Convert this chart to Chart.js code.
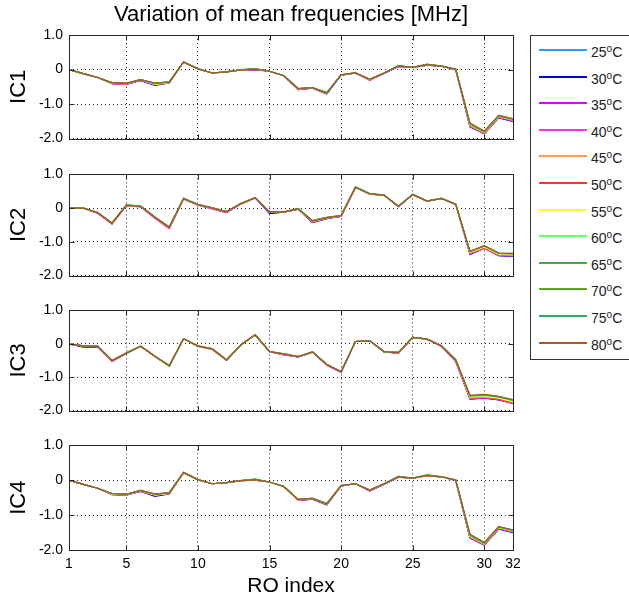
<!DOCTYPE html>
<html>
<head>
<meta charset="utf-8">
<script src="https://cdn.jsdelivr.net/npm/chart.js@4.4.1/dist/chart.umd.min.js"></script>
<style>
html,body{margin:0;padding:0;background:#fff;width:629px;height:599px;overflow:hidden;position:relative;}
canvas{position:absolute;left:0;}
#legend{position:absolute;left:530px;top:35px;width:130px;height:325px;box-sizing:border-box;border:1px solid #333;background:#fff;
  font-family:"Liberation Sans",Arial,Helvetica,sans-serif;font-size:14px;color:#222;}
.row{position:absolute;left:0;width:120px;height:2px;}
.ln{position:absolute;left:8px;width:48px;height:2px;top:0;}
.tx{position:absolute;left:60px;top:-4px;line-height:14px;white-space:nowrap;}
.tx sup{font-size:10px;position:relative;top:-1px;vertical-align:top;line-height:10px;}
</style>
</head>
<body>
<canvas id="p1" width="540" height="153" style="top:0px"></canvas>
<canvas id="p2" width="540" height="130" style="top:160px"></canvas>
<canvas id="p3" width="540" height="129" style="top:296px"></canvas>
<canvas id="p4" width="540" height="168" style="top:431px"></canvas>
<div id="legend"></div>
<script>
const roIndex = [1,2,3,4,5,6,7,8,9,10,11,12,13,14,15,16,17,18,19,20,21,22,23,24,25,26,27,28,29,30,31,32];
const xTickValues = [1,5,10,15,20,25,30,32];
const yTickValues = [-2,-1,0,1];
const temps = [25,30,35,40,45,50,55,60,65,70,75,80];
const colors = ['#3399ff','#0000dd','#dd00ff','#ff33dd','#ff9955','#ff3333','#ffff33','#66ff66','#44aa44','#55aa22','#33aa66','#b05528'];
const panelLabels = ['IC1','IC2','IC3','IC4'];
const chartTitle = 'Variation of mean frequencies [MHz]';
const xTitle = 'RO index';

// IC1 (IC4 shows the same curves)
const ic1t25 = [0,-0.12,-0.23,-0.40,-0.42,-0.31,-0.44,-0.38,0.22,0.02,-0.10,-0.07,-0.01,0.00,-0.05,-0.18,-0.57,-0.53,-0.70,-0.16,-0.10,-0.30,-0.11,0.09,0.06,0.13,0.10,0.00,-1.66,-1.85,-1.39,-1.49];
const ic1t30 = [0,-0.12,-0.23,-0.41,-0.42,-0.32,-0.46,-0.39,0.22,0.02,-0.10,-0.07,-0.01,0.00,-0.05,-0.18,-0.58,-0.54,-0.71,-0.16,-0.10,-0.30,-0.11,0.09,0.06,0.13,0.10,-0.01,-1.66,-1.86,-1.40,-1.50];
const ic1t35 = [0,-0.12,-0.23,-0.41,-0.43,-0.31,-0.43,-0.38,0.22,0.02,-0.10,-0.07,-0.01,0.00,-0.05,-0.18,-0.58,-0.54,-0.69,-0.16,-0.10,-0.31,-0.11,0.09,0.06,0.13,0.10,0.00,-1.65,-1.86,-1.39,-1.49];
const ic1t40 = [0,-0.12,-0.23,-0.40,-0.43,-0.31,-0.43,-0.38,0.22,0.02,-0.10,-0.07,-0.01,0.00,-0.05,-0.18,-0.58,-0.53,-0.69,-0.16,-0.10,-0.31,-0.11,0.09,0.06,0.13,0.10,0.00,-1.64,-1.85,-1.38,-1.48];
const ic1t45 = [0,-0.12,-0.23,-0.39,-0.41,-0.30,-0.42,-0.37,0.22,0.02,-0.10,-0.07,-0.01,0.01,-0.05,-0.18,-0.56,-0.53,-0.69,-0.15,-0.10,-0.29,-0.10,0.10,0.06,0.14,0.10,0.01,-1.63,-1.84,-1.37,-1.47];
const ic1t50 = [0,-0.12,-0.23,-0.40,-0.41,-0.30,-0.42,-0.37,0.22,0.02,-0.10,-0.07,-0.01,0.01,-0.05,-0.18,-0.56,-0.53,-0.68,-0.15,-0.10,-0.29,-0.10,0.10,0.06,0.14,0.10,0.01,-1.62,-1.85,-1.37,-1.47];
const ic1t55 = [0,-0.12,-0.23,-0.40,-0.41,-0.30,-0.43,-0.38,0.22,0.02,-0.10,-0.07,-0.01,0.01,-0.05,-0.18,-0.56,-0.52,-0.69,-0.15,-0.10,-0.29,-0.10,0.10,0.06,0.14,0.10,0.01,-1.61,-1.83,-1.36,-1.46];
const ic1t60 = [0,-0.12,-0.23,-0.39,-0.40,-0.29,-0.41,-0.35,0.22,0.02,-0.10,-0.07,-0.01,0.03,-0.05,-0.18,-0.55,-0.52,-0.67,-0.15,-0.10,-0.28,-0.10,0.11,0.06,0.16,0.11,0.01,-1.60,-1.82,-1.35,-1.45];
const ic1t65 = [0,-0.12,-0.23,-0.38,-0.40,-0.29,-0.40,-0.36,0.22,0.02,-0.10,-0.07,-0.01,0.03,-0.05,-0.18,-0.55,-0.52,-0.67,-0.15,-0.10,-0.28,-0.10,0.11,0.06,0.15,0.10,0.01,-1.58,-1.81,-1.34,-1.44];
const ic1t70 = [0,-0.12,-0.23,-0.38,-0.40,-0.29,-0.40,-0.36,0.22,0.02,-0.10,-0.07,-0.01,0.02,-0.05,-0.18,-0.55,-0.52,-0.67,-0.15,-0.10,-0.28,-0.10,0.10,0.06,0.15,0.10,0.01,-1.57,-1.80,-1.34,-1.44];
const ic1t75 = [0,-0.12,-0.23,-0.38,-0.40,-0.29,-0.40,-0.35,0.22,0.02,-0.10,-0.07,-0.01,0.03,-0.05,-0.18,-0.55,-0.52,-0.67,-0.15,-0.10,-0.28,-0.10,0.11,0.06,0.15,0.10,0.01,-1.56,-1.79,-1.33,-1.43];
const ic1t80 = [0,-0.12,-0.23,-0.38,-0.40,-0.29,-0.39,-0.37,0.22,0.02,-0.10,-0.07,-0.01,0.01,-0.05,-0.18,-0.55,-0.52,-0.68,-0.15,-0.10,-0.28,-0.10,0.10,0.06,0.14,0.10,0.01,-1.55,-1.78,-1.33,-1.42];

// IC2
const ic2t25 = [0,0,-0.14,-0.46,0.08,0.05,-0.28,-0.59,0.28,0.10,0.00,-0.12,0.13,0.31,-0.15,-0.12,-0.03,-0.42,-0.31,-0.24,0.61,0.42,0.38,0.04,0.40,0.21,0.29,0.11,-1.36,-1.18,-1.41,-1.42];
const ic2t30 = [0,0,-0.14,-0.46,0.08,0.05,-0.28,-0.59,0.28,0.10,0.00,-0.12,0.13,0.31,-0.16,-0.12,-0.03,-0.43,-0.31,-0.24,0.61,0.42,0.38,0.04,0.40,0.21,0.29,0.11,-1.37,-1.19,-1.41,-1.43];
const ic2t35 = [0,0,-0.15,-0.47,0.07,0.04,-0.30,-0.61,0.27,0.09,-0.02,-0.13,0.12,0.30,-0.13,-0.12,-0.03,-0.41,-0.30,-0.25,0.61,0.42,0.38,0.05,0.40,0.21,0.29,0.11,-1.35,-1.19,-1.40,-1.42];
const ic2t40 = [0,0,-0.16,-0.47,0.07,0.04,-0.30,-0.61,0.27,0.09,-0.02,-0.13,0.12,0.30,-0.13,-0.12,-0.03,-0.41,-0.30,-0.25,0.61,0.42,0.38,0.05,0.40,0.21,0.29,0.11,-1.34,-1.20,-1.40,-1.41];
const ic2t45 = [0,0,-0.14,-0.46,0.08,0.05,-0.28,-0.58,0.28,0.10,0.00,-0.11,0.13,0.31,-0.12,-0.11,-0.02,-0.40,-0.29,-0.23,0.62,0.42,0.38,0.06,0.40,0.21,0.29,0.12,-1.33,-1.17,-1.38,-1.40];
const ic2t50 = [0,0,-0.14,-0.46,0.08,0.05,-0.28,-0.58,0.28,0.10,0.00,-0.11,0.13,0.31,-0.12,-0.11,-0.02,-0.40,-0.29,-0.23,0.62,0.42,0.38,0.06,0.40,0.21,0.29,0.12,-1.33,-1.18,-1.38,-1.40];
const ic2t55 = [0,0,-0.13,-0.45,0.08,0.05,-0.27,-0.58,0.28,0.10,0.01,-0.10,0.13,0.31,-0.12,-0.11,-0.02,-0.39,-0.29,-0.22,0.62,0.42,0.38,0.06,0.40,0.21,0.29,0.12,-1.32,-1.16,-1.37,-1.39];
const ic2t60 = [0,0,-0.13,-0.44,0.10,0.06,-0.26,-0.56,0.29,0.11,0.01,-0.10,0.14,0.31,-0.11,-0.11,-0.01,-0.37,-0.27,-0.22,0.63,0.43,0.39,0.06,0.41,0.21,0.29,0.12,-1.30,-1.13,-1.35,-1.36];
const ic2t65 = [0,0,-0.13,-0.44,0.10,0.06,-0.26,-0.56,0.29,0.11,0.01,-0.10,0.14,0.31,-0.11,-0.11,-0.01,-0.37,-0.27,-0.22,0.63,0.43,0.39,0.06,0.41,0.21,0.29,0.12,-1.29,-1.12,-1.34,-1.35];
const ic2t70 = [0,0,-0.13,-0.44,0.09,0.05,-0.27,-0.57,0.29,0.10,0.01,-0.10,0.13,0.31,-0.11,-0.11,-0.02,-0.38,-0.28,-0.22,0.62,0.42,0.38,0.06,0.40,0.21,0.29,0.12,-1.29,-1.12,-1.34,-1.35];
const ic2t75 = [0,0,-0.13,-0.44,0.10,0.06,-0.26,-0.56,0.29,0.11,0.01,-0.10,0.14,0.31,-0.11,-0.11,-0.01,-0.37,-0.27,-0.22,0.63,0.43,0.39,0.06,0.41,0.21,0.29,0.12,-1.28,-1.11,-1.33,-1.34];
const ic2t80 = [0,0,-0.13,-0.45,0.08,0.05,-0.27,-0.57,0.28,0.10,0.01,-0.10,0.13,0.31,-0.11,-0.11,-0.02,-0.38,-0.28,-0.22,0.62,0.42,0.38,0.06,0.40,0.21,0.29,0.12,-1.28,-1.11,-1.33,-1.34];

// IC3
const ic3t25 = [0,-0.08,-0.08,-0.51,-0.29,-0.07,-0.38,-0.66,0.15,-0.07,-0.16,-0.49,-0.04,0.27,-0.24,-0.32,-0.39,-0.25,-0.63,-0.85,0.07,0.09,-0.24,-0.28,0.19,0.14,-0.07,-0.52,-1.65,-1.62,-1.67,-1.78];
const ic3t30 = [0,-0.10,-0.09,-0.51,-0.29,-0.07,-0.38,-0.66,0.15,-0.07,-0.16,-0.49,-0.04,0.27,-0.24,-0.32,-0.39,-0.25,-0.63,-0.85,0.07,0.09,-0.24,-0.28,0.19,0.14,-0.07,-0.53,-1.66,-1.63,-1.68,-1.78];
const ic3t35 = [0,-0.07,-0.08,-0.53,-0.29,-0.07,-0.38,-0.66,0.15,-0.07,-0.17,-0.49,-0.04,0.27,-0.24,-0.33,-0.39,-0.25,-0.64,-0.86,0.07,0.09,-0.24,-0.28,0.19,0.14,-0.07,-0.52,-1.65,-1.62,-1.67,-1.79];
const ic3t40 = [0,-0.07,-0.08,-0.53,-0.29,-0.07,-0.38,-0.66,0.15,-0.07,-0.17,-0.49,-0.04,0.27,-0.24,-0.33,-0.39,-0.25,-0.64,-0.86,0.07,0.09,-0.24,-0.28,0.19,0.14,-0.07,-0.52,-1.64,-1.61,-1.66,-1.78];
const ic3t45 = [0,-0.06,-0.07,-0.51,-0.28,-0.07,-0.37,-0.65,0.15,-0.06,-0.15,-0.48,-0.03,0.27,-0.23,-0.31,-0.38,-0.24,-0.62,-0.84,0.07,0.09,-0.23,-0.27,0.19,0.14,-0.06,-0.50,-1.62,-1.59,-1.65,-1.76];
const ic3t50 = [0,-0.06,-0.07,-0.51,-0.28,-0.07,-0.37,-0.65,0.15,-0.06,-0.15,-0.48,-0.03,0.27,-0.23,-0.31,-0.38,-0.24,-0.62,-0.84,0.07,0.09,-0.23,-0.27,0.19,0.14,-0.06,-0.50,-1.62,-1.60,-1.65,-1.77];
const ic3t55 = [0,-0.06,-0.07,-0.50,-0.28,-0.07,-0.37,-0.65,0.15,-0.06,-0.15,-0.48,-0.03,0.29,-0.23,-0.30,-0.38,-0.24,-0.62,-0.83,0.07,0.09,-0.23,-0.27,0.19,0.14,-0.06,-0.50,-1.60,-1.58,-1.63,-1.74];
const ic3t60 = [0,-0.06,-0.07,-0.50,-0.28,-0.07,-0.37,-0.68,0.15,-0.08,-0.15,-0.50,-0.03,0.27,-0.23,-0.30,-0.38,-0.24,-0.62,-0.83,0.07,0.09,-0.24,-0.25,0.19,0.14,-0.06,-0.47,-1.57,-1.55,-1.60,-1.71];
const ic3t65 = [0,-0.06,-0.07,-0.50,-0.28,-0.07,-0.37,-0.67,0.15,-0.07,-0.15,-0.49,-0.03,0.27,-0.23,-0.30,-0.38,-0.24,-0.62,-0.83,0.07,0.09,-0.24,-0.25,0.19,0.14,-0.06,-0.47,-1.56,-1.53,-1.59,-1.69];
const ic3t70 = [0,-0.06,-0.07,-0.50,-0.28,-0.07,-0.37,-0.66,0.15,-0.07,-0.15,-0.49,-0.03,0.27,-0.23,-0.30,-0.38,-0.24,-0.62,-0.83,0.07,0.09,-0.23,-0.26,0.19,0.14,-0.06,-0.48,-1.56,-1.53,-1.58,-1.68];
const ic3t75 = [0,-0.06,-0.07,-0.50,-0.28,-0.07,-0.37,-0.67,0.15,-0.07,-0.15,-0.49,-0.03,0.27,-0.23,-0.30,-0.38,-0.24,-0.62,-0.83,0.07,0.09,-0.24,-0.25,0.19,0.14,-0.06,-0.47,-1.55,-1.52,-1.58,-1.67];
const ic3t80 = [0,-0.06,-0.07,-0.50,-0.28,-0.07,-0.37,-0.65,0.15,-0.06,-0.15,-0.48,-0.03,0.27,-0.23,-0.30,-0.38,-0.24,-0.62,-0.83,0.07,0.09,-0.23,-0.27,0.19,0.14,-0.06,-0.49,-1.54,-1.51,-1.57,-1.68];

const ic1 = [ic1t25,ic1t30,ic1t35,ic1t40,ic1t45,ic1t50,ic1t55,ic1t60,ic1t65,ic1t70,ic1t75,ic1t80];
const ic2 = [ic2t25,ic2t30,ic2t35,ic2t40,ic2t45,ic2t50,ic2t55,ic2t60,ic2t65,ic2t70,ic2t75,ic2t80];
const ic3 = [ic3t25,ic3t30,ic3t35,ic3t40,ic3t45,ic3t50,ic3t55,ic3t60,ic3t65,ic3t70,ic3t75,ic3t80];
const ic4 = ic1;

Chart.defaults.font.family = '"Liberation Sans", Arial, Helvetica, sans-serif';
Chart.defaults.color = '#000';

const framePlugin = {
  id: 'frame',
  afterDraw(chart) {
    const {ctx, chartArea: a, scales} = chart;
    const L = Math.round(a.left) + 0.5, R = Math.round(a.right) + 0.5;
    const T = Math.round(a.top) + 0.5, B = Math.round(a.bottom) + 0.5;
    ctx.save();
    ctx.setLineDash([]);
    ctx.strokeStyle = '#262626';
    ctx.lineWidth = 1;
    ctx.strokeRect(L, T, R - L, B - T);
    ctx.beginPath();
    scales.x.ticks.forEach(t => {
      const px = Math.round(scales.x.getPixelForValue(t.value)) + 0.5;
      ctx.moveTo(px, T); ctx.lineTo(px, T + 5);
      ctx.moveTo(px, B); ctx.lineTo(px, B - 5);
    });
    scales.y.ticks.forEach(t => {
      const py = Math.round(scales.y.getPixelForValue(t.value)) + 0.5;
      ctx.moveTo(L, py); ctx.lineTo(L + 5, py);
      ctx.moveTo(R, py); ctx.lineTo(R - 5, py);
    });
    ctx.stroke();
    ctx.restore();
  }
};

function makePanel(id, label, series, pad, first, last) {
  const datasets = temps.map((t, k) => ({
    label: t + '°C',
    data: roIndex.map((x, i) => ({x: x, y: series[k][i]})),
    borderColor: colors[k],
    backgroundColor: colors[k],
    borderWidth: 1.2,
    pointRadius: 0,
    fill: false,
    tension: 0,
    order: temps.length - 1 - k
  }));
  new Chart(document.getElementById(id), {
    type: 'line',
    data: {datasets},
    options: {
      responsive: false,
      animation: false,
      devicePixelRatio: 1,
      layout: {padding: {left: 0, right: 27, top: pad.top, bottom: pad.bottom}},
      plugins: {
        legend: {display: false},
        tooltip: {enabled: false},
        title: first ? {
          display: true, text: chartTitle, color: '#000', fullSize: false,
          font: {size: 22, weight: 'normal', lineHeight: 1.2},
          padding: {top: 2, bottom: 6.6}
        } : {display: false}
      },
      scales: {
        x: {
          type: 'linear', min: 1, max: 32,
          afterBuildTicks: s => { s.ticks = xTickValues.map(v => ({value: v})); },
          ticks: {display: last, autoSkip: false, maxRotation: 0, padding: 6,
                  font: {size: 14}, color: '#000', callback: v => String(v)},
          grid: {color: '#222', lineWidth: 1, drawTicks: false},
          border: {display: false, dash: [1, 3]},
          title: last ? {display: true, text: xTitle, color: '#000',
                         font: {size: 21, lineHeight: 1.2}, padding: {top: 0, bottom: 0}} : {display: false},
          afterFit: s => { s.height = last ? 49 : 0; }
        },
        y: {
          min: -2, max: 1,
          afterBuildTicks: s => { s.ticks = yTickValues.map(v => ({value: v})); },
          ticks: {padding: 6, font: {size: 14}, color: '#000',
                  callback: v => (v === 0 ? '0' : v.toFixed(1))},
          grid: {color: '#222', lineWidth: 1, drawTicks: false},
          border: {display: false, dash: [1, 3]},
          title: {display: true, text: label, color: '#000',
                  font: {size: 22, lineHeight: 1.2}, padding: {top: 6, bottom: 0}},
          afterFit: s => { s.width = 69; }
        }
      }
    },
    plugins: [framePlugin]
  });
}

makePanel('p1', panelLabels[0], ic1, {top: 0, bottom: 9}, true, false);
makePanel('p2', panelLabels[1], ic2, {top: 10, bottom: 10}, false, false);
makePanel('p3', panelLabels[2], ic3, {top: 10, bottom: 10}, false, false);
makePanel('p4', panelLabels[3], ic4, {top: 10, bottom: 0}, false, true);

// legend
const leg = document.getElementById('legend');
temps.forEach((t, k) => {
  const row = document.createElement('div');
  row.className = 'row';
  row.style.top = (Math.round(50 + 26.6 * k) - 37) + 'px';
  const ln = document.createElement('div');
  ln.className = 'ln';
  ln.style.backgroundColor = colors[k];
  const tx = document.createElement('div');
  tx.className = 'tx';
  tx.innerHTML = t + '<sup>o</sup>C';
  row.appendChild(ln);
  row.appendChild(tx);
  leg.appendChild(row);
});
</script>
</body>
</html>
